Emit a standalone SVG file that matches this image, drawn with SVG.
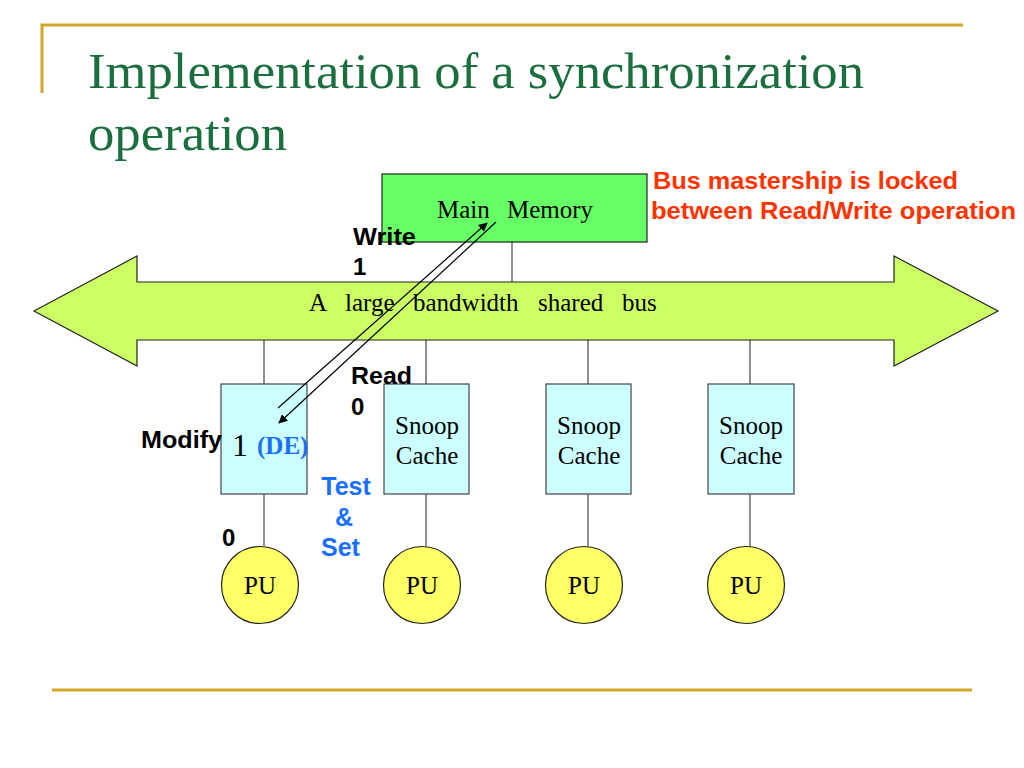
<svg xmlns="http://www.w3.org/2000/svg" width="1024" height="768" viewBox="0 0 1024 768">
<defs>
<style>
.deco{stroke:#d4a628;stroke-width:3;fill:none}
.title{font-family:"Liberation Serif",serif;font-size:50px;fill:#1b6e3e}
.serif{font-family:"Liberation Serif",serif;font-size:25px;fill:#000}
.lbl{font-family:"Liberation Sans",Arial,sans-serif;font-size:24px;font-weight:bold;fill:#000}
.red{font-family:"Liberation Sans",Arial,sans-serif;font-size:24px;font-weight:bold;fill:#ff3300}
.blue{font-family:"Liberation Sans",Arial,sans-serif;font-size:25px;font-weight:bold;fill:#1a6fff}
.cache{fill:#ccffff;stroke:#444;stroke-width:1.2}
.pu{fill:#ffff66;stroke:#222;stroke-width:1.2}
.wire{stroke:#444;stroke-width:1.2;fill:none}
.arr{stroke:#000;stroke-width:1.2;fill:none;marker-end:url(#ah)}
</style>
<marker id="ah" viewBox="0 0 10 10" refX="9" refY="5" markerWidth="9" markerHeight="9" markerUnits="userSpaceOnUse" orient="auto">
<path d="M0,0 L10,5 L0,10 z" fill="#000"/>
</marker>
</defs>
<rect width="1024" height="768" fill="#fff"/>
<g id="decoration">
<path class="deco" d="M42,93 V25 H963"/>
<line class="deco" x1="52" y1="690" x2="972" y2="690"/>
</g>
<g id="title">
<text class="title" x="88" y="88" textLength="776" lengthAdjust="spacingAndGlyphs">Implementation of a synchronization</text>
<text class="title" x="88" y="150" textLength="199" lengthAdjust="spacingAndGlyphs">operation</text>
</g>
<g id="connectors">
<line class="wire" x1="512" y1="240" x2="512" y2="282"/>
<line class="wire" x1="264" y1="340" x2="264" y2="384"/>
<line class="wire" x1="426" y1="340" x2="426" y2="384"/>
<line class="wire" x1="588" y1="340" x2="588" y2="384"/>
<line class="wire" x1="750" y1="340" x2="750" y2="384"/>
<line class="wire" x1="264" y1="494" x2="264" y2="546"/>
<line class="wire" x1="426" y1="494" x2="426" y2="546"/>
<line class="wire" x1="588" y1="494" x2="588" y2="546"/>
<line class="wire" x1="750" y1="494" x2="750" y2="546"/>
</g>
<g id="bus">
<polygon points="34,311 137,256 137,282 894,282 894,256 998,311 894,366 894,340 137,340 137,366" fill="#ccff66" stroke="#222" stroke-width="1.2"/>
<text class="serif" y="311"><tspan x="309">A</tspan> <tspan x="345">large</tspan> <tspan x="413">bandwidth</tspan> <tspan x="538">shared</tspan> <tspan x="622">bus</tspan></text>
</g>
<g id="main-memory">
<rect x="382" y="174" width="265" height="68" fill="#66ff66" stroke="#222" stroke-width="1.2"/>
<text class="serif" y="218"><tspan x="437">Main</tspan> <tspan x="507">Memory</tspan></text>
</g>
<g id="cache1">
<rect class="cache" x="221" y="384" width="86" height="110"/>
<text x="232" y="456" font-family="Liberation Serif,serif" font-size="32px">1</text>
<text x="257" y="454" font-family="Liberation Serif,serif" font-size="25px" font-weight="bold" fill="#1a6fff">(DE)</text>
</g>
<g id="cache2">
<rect class="cache" x="384" y="384" width="85" height="110"/>
<text class="serif" x="427" y="434" text-anchor="middle">Snoop</text>
<text class="serif" x="427" y="464" text-anchor="middle">Cache</text>
</g>
<g id="cache3">
<rect class="cache" x="546" y="384" width="85" height="110"/>
<text class="serif" x="589" y="434" text-anchor="middle">Snoop</text>
<text class="serif" x="589" y="464" text-anchor="middle">Cache</text>
</g>
<g id="cache4">
<rect class="cache" x="708" y="384" width="86" height="110"/>
<text class="serif" x="751" y="434" text-anchor="middle">Snoop</text>
<text class="serif" x="751" y="464" text-anchor="middle">Cache</text>
</g>
<g id="pu1"><circle class="pu" cx="260" cy="585" r="38.5"/><text class="serif" x="260" y="594" text-anchor="middle">PU</text></g>
<g id="pu2"><circle class="pu" cx="422" cy="585" r="38.5"/><text class="serif" x="422" y="594" text-anchor="middle">PU</text></g>
<g id="pu3"><circle class="pu" cx="584" cy="585" r="38.5"/><text class="serif" x="584" y="594" text-anchor="middle">PU</text></g>
<g id="pu4"><circle class="pu" cx="746" cy="585" r="38.5"/><text class="serif" x="746" y="594" text-anchor="middle">PU</text></g>
<g id="flow-arrows">
<line class="arr" x1="278" y1="408" x2="487" y2="223"/>
<line class="arr" x1="496" y1="222" x2="279" y2="423"/>
</g>
<g id="labels">
<text class="lbl" x="353" y="245" textLength="63" lengthAdjust="spacingAndGlyphs">Write</text>
<text class="lbl" x="353" y="275">1</text>
<text class="lbl" x="351" y="384" textLength="61" lengthAdjust="spacingAndGlyphs">Read</text>
<text class="lbl" x="351" y="415">0</text>
<text class="lbl" x="141" y="448" textLength="81" lengthAdjust="spacingAndGlyphs">Modify</text>
<text class="lbl" x="222" y="546">0</text>
<text class="blue" x="346" y="495" text-anchor="middle">Test</text>
<text class="blue" x="344" y="526" text-anchor="middle">&amp;</text>
<text class="blue" x="321" y="556">Set</text>
<text class="red" x="653" y="189" textLength="305" lengthAdjust="spacingAndGlyphs">Bus mastership is locked</text>
<text class="red" x="651" y="219" textLength="365" lengthAdjust="spacingAndGlyphs">between Read/Write operation</text>
</g>
</svg>
